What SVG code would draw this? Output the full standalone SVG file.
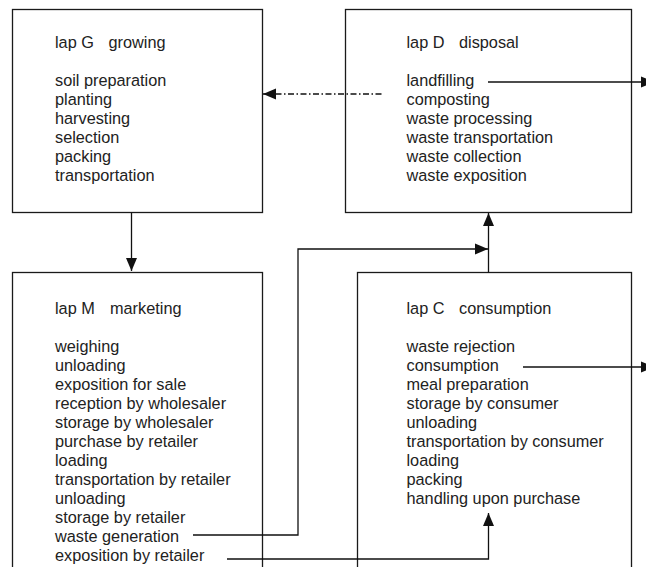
<svg xmlns="http://www.w3.org/2000/svg" width="646" height="567" viewBox="0 0 646 567">
<defs>
<style>
.box{fill:#fff;stroke:#1a1a1a;stroke-width:1.3}
.t{font-family:"Liberation Sans",Arial,Helvetica,sans-serif;font-size:16.3px;fill:#222}
.c{fill:none;stroke:#111;stroke-width:1.3}
.dd{stroke-dasharray:6 2.5 1.5 2.5}
</style>
<marker id="ah" markerUnits="userSpaceOnUse" markerWidth="14" markerHeight="12" viewBox="0 0 14 12" refX="13" refY="6" orient="auto">
<path d="M0,0.5 L13,6 L0,11.5 Z" fill="#111"/>
</marker>
</defs>
<rect width="646" height="567" fill="#fff"/>
<g id="node-G">
<rect class="box" x="12.5" y="9.5" width="250" height="203"/>
<text class="t"><tspan x="55" y="47.5">lap G</tspan><tspan x="108.5" y="47.5">growing</tspan></text>
<text class="t"><tspan x="55" y="86">soil preparation</tspan><tspan x="55" y="105">planting</tspan><tspan x="55" y="124">harvesting</tspan><tspan x="55" y="143">selection</tspan><tspan x="55" y="162">packing</tspan><tspan x="55" y="181">transportation</tspan></text>
</g>
<g id="node-D">
<rect class="box" x="345.5" y="9.5" width="286" height="203"/>
<text class="t"><tspan x="406.5" y="47.5">lap D</tspan><tspan x="459" y="47.5">disposal</tspan></text>
<text class="t"><tspan x="406.5" y="86">landfilling</tspan><tspan x="406.5" y="105">composting</tspan><tspan x="406.5" y="124">waste processing</tspan><tspan x="406.5" y="143">waste transportation</tspan><tspan x="406.5" y="162">waste collection</tspan><tspan x="406.5" y="181">waste exposition</tspan></text>
</g>
<g id="node-M">
<rect class="box" x="12.5" y="272.5" width="250" height="320"/>
<text class="t"><tspan x="55" y="314">lap M</tspan><tspan x="110" y="314">marketing</tspan></text>
<text class="t"><tspan x="55" y="351.7">weighing</tspan><tspan x="55" y="370.7">unloading</tspan><tspan x="55" y="389.7">exposition for sale</tspan><tspan x="55" y="408.7">reception by wholesaler</tspan><tspan x="55" y="427.7">storage by wholesaler</tspan><tspan x="55" y="446.7">purchase by retailer</tspan><tspan x="55" y="465.7">loading</tspan><tspan x="55" y="484.7">transportation by retailer</tspan><tspan x="55" y="503.7">unloading</tspan><tspan x="55" y="522.7">storage by retailer</tspan><tspan x="55" y="541.7">waste generation</tspan><tspan x="55" y="560.7">exposition by retailer</tspan></text>
</g>
<g id="node-C">
<rect class="box" x="357.5" y="272.5" width="274" height="320"/>
<text class="t"><tspan x="406.5" y="314">lap C</tspan><tspan x="459" y="314">consumption</tspan></text>
<text class="t"><tspan x="406.5" y="351.7">waste rejection</tspan><tspan x="406.5" y="370.7">consumption</tspan><tspan x="406.5" y="389.7">meal preparation</tspan><tspan x="406.5" y="408.7">storage by consumer</tspan><tspan x="406.5" y="427.7">unloading</tspan><tspan x="406.5" y="446.7">transportation by consumer</tspan><tspan x="406.5" y="465.7">loading</tspan><tspan x="406.5" y="484.7">packing</tspan><tspan x="406.5" y="503.7">handling upon purchase</tspan></text>
</g>
<g id="connectors">
<line class="c" x1="131.5" y1="212.5" x2="131.5" y2="271" marker-end="url(#ah)"/>
<line class="c" x1="488.5" y1="272.5" x2="488.5" y2="213" marker-end="url(#ah)"/>
<polyline class="c" points="193,535 298,535 298,249 488,249" marker-end="url(#ah)"/>
<polyline class="c" points="227,559 488.5,559 488.5,513" marker-end="url(#ah)"/>
<line class="c" x1="488" y1="82" x2="654" y2="82" marker-end="url(#ah)"/>
<line class="c" x1="523" y1="367" x2="654" y2="367" marker-end="url(#ah)"/>
<line class="c dd" x1="381.5" y1="94" x2="263" y2="94" marker-end="url(#ah)"/>
</g>
</svg>
